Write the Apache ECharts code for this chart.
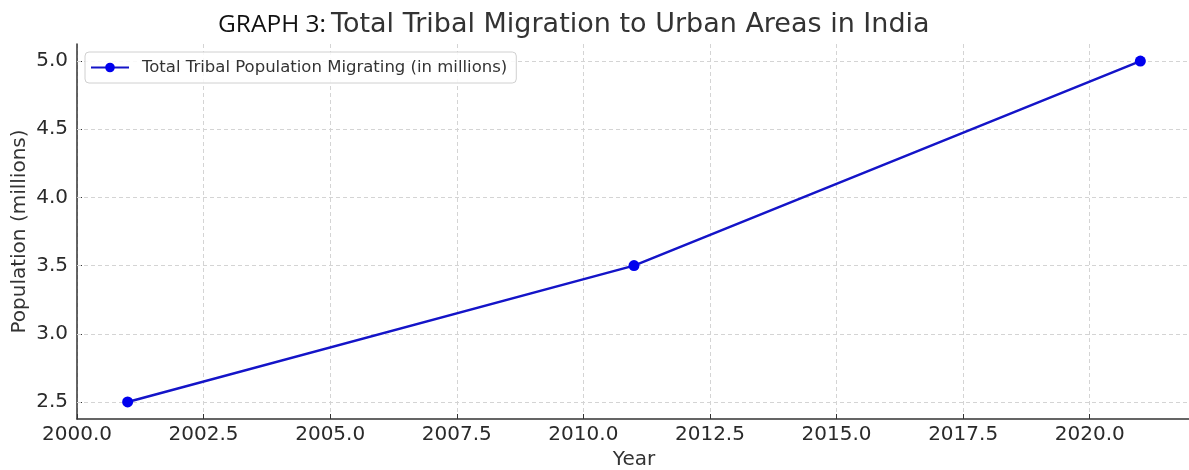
<!DOCTYPE html>
<html>
<head>
<meta charset="utf-8">
<script src="https://cdn.jsdelivr.net/npm/echarts@6/dist/echarts.min.js"></script>
<style>html,body{margin:0;padding:0;background:#fff}#c{width:1189px;height:470px}</style>
</head>
<body>
<div id="c"></div>
<script>
const years = [2001, 2011, 2021];
const population = [2.5, 3.5, 5.0];
const yTicks = [2.5, 3.0, 3.5, 4.0, 4.5, 5.0];
const seriesName = 'Total Tribal Population Migrating (in millions)';
const titlePrefix = 'GRAPH 3:';
const titleMain = 'Total Tribal Migration to Urban Areas in India';

const chart = echarts.init(document.getElementById('c'), null, {renderer: 'canvas'});
const font = 'DejaVu Sans';
const gridLine = {color: '#d4d4d4', width: 1, type: [4, 3]};
chart.setOption({
  animation: false,
  backgroundColor: '#fff',
  title: {
    left: 213, top: 6,
    text: '{a|' + titlePrefix + '} {b|' + titleMain + '}',
    textStyle: {
      fontWeight: 'normal',
      rich: {
        a: {fontFamily: 'Open Sans', fontSize: 24.5, fontWeight: 'normal', color: '#111', lineHeight: 28},
        b: {fontFamily: font, fontSize: 27, fontWeight: 'normal', color: '#333', lineHeight: 28}
      }
    }
  },
  legend: {
    left: 85, top: 52,
    padding: [7, 9, 7, 5],
    itemWidth: 38, itemHeight: 12, itemGap: 10,
    backgroundColor: 'rgba(255,255,255,0.85)',
    borderColor: '#d0d0d0', borderWidth: 1, borderRadius: 4,
    textStyle: {fontFamily: font, fontSize: 16.5, color: '#333', padding: [0, 0, 0, 8]},
    data: [seriesName]
  },
  grid: {left: 77, right: -2, top: 44, bottom: 51, containLabel: false, outerBoundsMode: 'none'},
  xAxis: {
    type: 'value', min: 2000, max: 2022, interval: 2.5,
    name: 'Year', nameLocation: 'middle', nameGap: 31,
    nameTextStyle: {fontFamily: font, fontSize: 20, color: '#333'},
    axisLine: {show: true, lineStyle: {color: '#333', width: 1.5}},
    axisTick: {show: true, inside: true, length: 5, lineStyle: {color: '#333'}},
    axisLabel: {fontFamily: font, fontSize: 20, color: '#2a2a2a', margin: 6, showMaxLabel: false,
      formatter: v => v.toFixed(1)},
    splitLine: {show: true, lineStyle: gridLine}
  },
  yAxis: {
    type: 'value', min: 2.375, max: 5.125,
    name: 'Population (millions)', nameLocation: 'middle', nameGap: 47, nameMoveOverlap: false,
    nameTextStyle: {fontFamily: font, fontSize: 20, color: '#333'},
    axisLine: {show: true, lineStyle: {color: '#333', width: 1.5}},
    axisTick: {show: true, inside: true, length: 5, customValues: yTicks, lineStyle: {color: '#333'}},
    axisLabel: {fontFamily: font, fontSize: 20, color: '#2a2a2a', margin: 9, customValues: yTicks,
      formatter: v => v.toFixed(1)},
    splitLine: {show: false}
  },
  series: [
    {
      type: 'line', name: '__grid', data: [], silent: true, z: 1,
      markLine: {
        silent: true, symbol: 'none', z: 1, label: {show: false},
        lineStyle: gridLine, emphasis: {disabled: true},
        data: yTicks.map(v => ({yAxis: v}))
      }
    },
    {
      type: 'line', name: seriesName, z: 10,
      data: years.map((y, i) => [y, population[i]]),
      symbol: 'circle', symbolSize: 11, showSymbol: true,
      lineStyle: {color: '#1414c8', width: 2.5},
      itemStyle: {color: '#0000ee'}
    }
  ]
});
</script>
</body>
</html>
